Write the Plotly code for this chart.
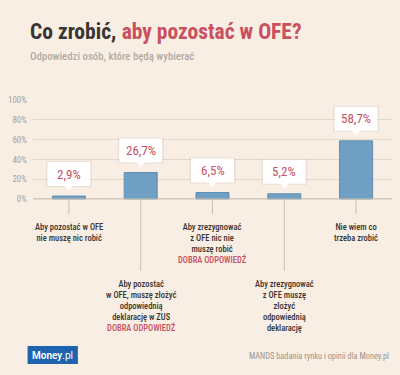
import plotly.graph_objects as go

categories = ["A", "B", "C", "D", "E"]
values = [2.9, 26.7, 6.5, 5.2, 58.7]
value_labels = ["2,9%", "26,7%", "6,5%", "5,2%", "58,7%"]
tick_vals = [0, 20, 40, 60, 80, 100]
tick_text = ["0%", "20%", "40%", "60%", "80%", "100%"]
answers = [
    "Aby pozostać w OFE<br>nie muszę nic robić",
    "Aby pozostać<br>w OFE, muszę złożyć<br>odpowiednią<br>deklarację w ZUS<br><span style='color:#c9505e;font-stretch:75%'>DOBRA ODPOWIEDŹ</span>",
    "Aby zrezygnować<br>z OFE nic nie<br>muszę robić<br><span style='color:#c9505e;font-stretch:75%'>DOBRA ODPOWIEDŹ</span>",
    "Aby zrezygnować<br>z OFE muszę<br>złożyć<br>odpowiednią<br>deklarację",
    "Nie wiem co<br>trzeba zrobić",
]
connector_len = [15, 72, 15, 72, 15]

BG = "#f8eee4"
RED = "#c9505e"
DARK = "#3a3530"
FONT = "Roboto"

# layout geometry (pixels)
TOP, BOTTOM, LEFT, RIGHT = 99.5, 272.5, 28.5, 392.5
H = BOTTOM - TOP
W = RIGHT - LEFT
UNITS_PER_PX = 100 / 99.5
Y_MIN = -(BOTTOM - 199) * UNITS_PER_PX


def px(X):
    return (X - LEFT) / W


def py(Y):
    return (BOTTOM - Y) / H


def cond(s, extra=""):
    return "<br>".join(f"<span style='font-stretch:75%;{extra}'>{p}</span>" for p in s.split("<br>"))


fig = go.Figure()
fig.add_trace(go.Bar(
    x=categories, y=values, width=0.46,
    marker=dict(color="#6f9fc2", line=dict(color="#5e8fb4", width=1)),
    hoverinfo="skip",
))

shapes = []
annotations = []
for cat, v, lab, ans, cl in zip(categories, values, value_labels, answers, connector_len):
    shapes.append(dict(
        type="path", xref="x", yref="y", xsizemode="pixel", ysizemode="pixel",
        xanchor=cat, yanchor=v,
        path="M -23,9 L 23,9 L 23,35 L -23,35 Z",
        fillcolor="rgba(120,100,80,0.10)", line=dict(width=0), layer="above",
    ))
    shapes.append(dict(
        type="path", xref="x", yref="y", xsizemode="pixel", ysizemode="pixel",
        xanchor=cat, yanchor=v,
        path="M -21.5,10 L -4,10 L 0,5 L 4,10 L 21.5,10 L 21.5,34 L -21.5,34 Z",
        fillcolor="white", line=dict(width=0), layer="above",
    ))
    annotations.append(dict(
        x=cat, y=v, xref="x", yref="y", text=cond(lab), showarrow=False,
        yanchor="middle", yshift=22,
        font=dict(family=FONT, size=13, color=RED),
    ))
    shapes.append(dict(
        type="line", xref="x", yref="y", ysizemode="pixel", yanchor=0,
        x0=cat, x1=cat, y0=-1, y1=-cl,
        line=dict(color="#cbbfb2", width=1),
    ))
    annotations.append(dict(
        x=cat, y=0, xref="x", yref="y", text=cond(ans), showarrow=False,
        yanchor="top", yshift=-(cl + 6),
        font=dict(family=FONT, size=8.5, color=DARK, weight=500),
        align="center",
    ))

fig.update_layout(
    width=400, height=375,
    margin=dict(l=LEFT, r=400 - RIGHT, t=TOP, b=375 - BOTTOM),
    paper_bgcolor=BG, plot_bgcolor=BG,
    showlegend=False,
    xaxis=dict(range=[-0.5, 4.5], showticklabels=False, showgrid=False,
               zeroline=False, fixedrange=True),
    yaxis=dict(range=[Y_MIN, 100], tickvals=tick_vals, ticktext=[cond(t) for t in tick_text],
               showgrid=True, gridcolor="#e3d7c8", gridwidth=1,
               zeroline=False, ticks="", ticklabelstandoff=5,
               tickfont=dict(family=FONT, size=9, color="#aaa299"),
               showline=False, fixedrange=True),
    shapes=shapes,
    annotations=annotations,
)
fig.add_hline(y=0, line=dict(color="#c9bdb0", width=1))

fig.add_annotation(
    x=px(23.5), y=py(30.5), xref="paper", yref="paper",
    xanchor="left", yanchor="middle", showarrow=False,
    text=f"<span style='color:{DARK};font-stretch:75%'>Co zrobić,</span> <span style='color:{RED};font-stretch:75%'>aby pozostać w OFE?</span>",
    font=dict(family=FONT, size=21.5, color=DARK, weight=700),
)
fig.add_annotation(
    x=px(23.5), y=py(55.5), xref="paper", yref="paper",
    xanchor="left", yanchor="middle", showarrow=False,
    text=cond("Odpowiedzi osób, które będą wybierać"),
    font=dict(family=FONT, size=10.8, color="#b3aba3", weight=500),
)
fig.add_shape(type="rect", xref="paper", yref="paper",
              x0=px(23), x1=px(74), y0=py(365), y1=py(347),
              fillcolor="#1d63ad", line=dict(width=0))
fig.add_annotation(
    x=px(48.5), y=py(356), xref="paper", yref="paper",
    xanchor="center", yanchor="middle",
    showarrow=False, text="<span style='font-weight:600'>Money</span>.pl",
    font=dict(family=FONT, size=10, color="white"),
)
fig.add_annotation(
    x=px(391), y=py(357), xref="paper", yref="paper",
    xanchor="right", yanchor="middle", showarrow=False,
    text=cond("MANDS badania rynku i opinii dla Money.pl"),
    font=dict(family=FONT, size=8.3, color="#9d958d"),
)

fig.write_html("out.html", post_script="document.body.style.margin='0';",
               config={"displayModeBar": False})
